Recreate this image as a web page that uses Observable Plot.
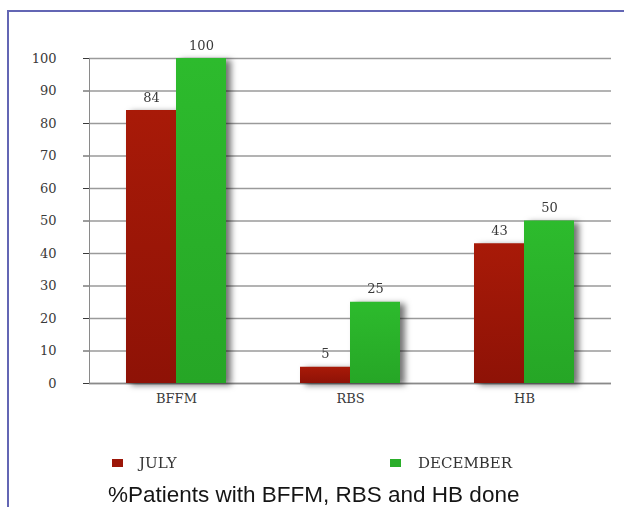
<!DOCTYPE html>
<html><head><meta charset="utf-8">
<script src="https://cdn.jsdelivr.net/npm/d3@7"></script>
<script src="https://cdn.jsdelivr.net/npm/@observablehq/plot@0.6"></script>
<style>
body{margin:0;background:#fff;overflow:hidden}
#wrap{position:relative;width:624px;height:507px;overflow:hidden;background:#fff}
#border{position:absolute;left:7px;top:10px;width:640px;height:520px;border-left:2px solid #6366b4;border-top:2px solid #6366b4;pointer-events:none}
#chart{position:absolute;left:0;top:0}
.lg{position:absolute;font-family:"DejaVu Serif",serif;font-size:15px;line-height:15px;color:#333;white-space:nowrap}
.sw{position:absolute;width:11px;height:8px}
#caption{position:absolute;left:108px;top:484px;font-family:"Liberation Sans",Arial,sans-serif;font-size:22.5px;line-height:22.5px;color:#151515;white-space:nowrap}
</style></head>
<body>
<div id="wrap">
  <div id="chart"></div>
  <div id="border"></div>
  <div class="sw" style="left:112px;top:459px;background:#9c1608"></div>
  <div class="lg" style="left:139px;top:456px">JULY</div>
  <div class="sw" style="left:390px;top:459px;background:#2aae2a"></div>
  <div class="lg" style="left:418px;top:456px">DECEMBER</div>
  <div id="caption">%Patients with BFFM, RBS and HB done</div>
</div>
<script>
const categories = ["BFFM", "RBS", "HB"];
const series = ["JULY", "DECEMBER"];
const july = [84, 5, 43];
const december = [100, 25, 50];
const yTicks = [0, 10, 20, 30, 40, 50, 60, 70, 80, 90, 100];
const seriesFills = ["url(#gJuly)", "url(#gDec)"];

const data = categories.flatMap((c, i) => [
  {category: c, series: series[0], value: july[i]},
  {category: c, series: series[1], value: december[i]}
]);

const chart = Plot.plot({
  width: 624,
  height: 420,
  marginLeft: 88,
  marginRight: 12,
  marginTop: 58,
  marginBottom: 37,
  style: {fontFamily: "DejaVu Serif, serif", fontSize: "13px", color: "#3a3a3a", background: "transparent"},
  fx: {domain: categories, padding: 0, label: null, tickSize: 0, tickPadding: 10, fontSize: 14},
  x: {domain: series, paddingInner: 0, paddingOuter: 0.73, axis: null},
  y: {domain: [0, 100], ticks: yTicks, tickSize: 6, tickPadding: 27, label: null},
  color: {domain: series, range: seriesFills},
  marks: [
    Plot.gridY(yTicks, {stroke: "#9a9a9a", strokeOpacity: 1, strokeWidth: 1.3}),
    Plot.frame({anchor: "left", facetAnchor: "left", stroke: "#8a8a8a"}),
    Plot.ruleY([0], {stroke: "#8a8a8a", strokeWidth: 1.3}),
    Plot.barY(data, {fx: "category", x: "series", y: "value", fill: "series"}),
    Plot.text(data, {fx: "category", x: "series", y: "value", text: d => String(d.value), dy: -9, lineAnchor: "bottom", fill: "#3a3a3a", fontSize: 13})
  ]
});

const svg = d3.select(chart);
const defs = svg.insert("defs", ":first-child");
const gj = defs.append("linearGradient").attr("id", "gJuly").attr("x1", 0).attr("y1", 0).attr("x2", 0).attr("y2", 1);
gj.append("stop").attr("offset", "0%").attr("stop-color", "#a81a08");
gj.append("stop").attr("offset", "100%").attr("stop-color", "#8e1206");
const gd = defs.append("linearGradient").attr("id", "gDec").attr("x1", 0).attr("y1", 0).attr("x2", 0).attr("y2", 1);
gd.append("stop").attr("offset", "0%").attr("stop-color", "#2dbb2d");
gd.append("stop").attr("offset", "100%").attr("stop-color", "#26a626");
svg.selectAll('g[aria-label="bar"]').style("filter", "drop-shadow(5px 2px 3px rgba(0,0,0,0.55))");

document.getElementById("chart").appendChild(chart);
</script>
</body></html>
